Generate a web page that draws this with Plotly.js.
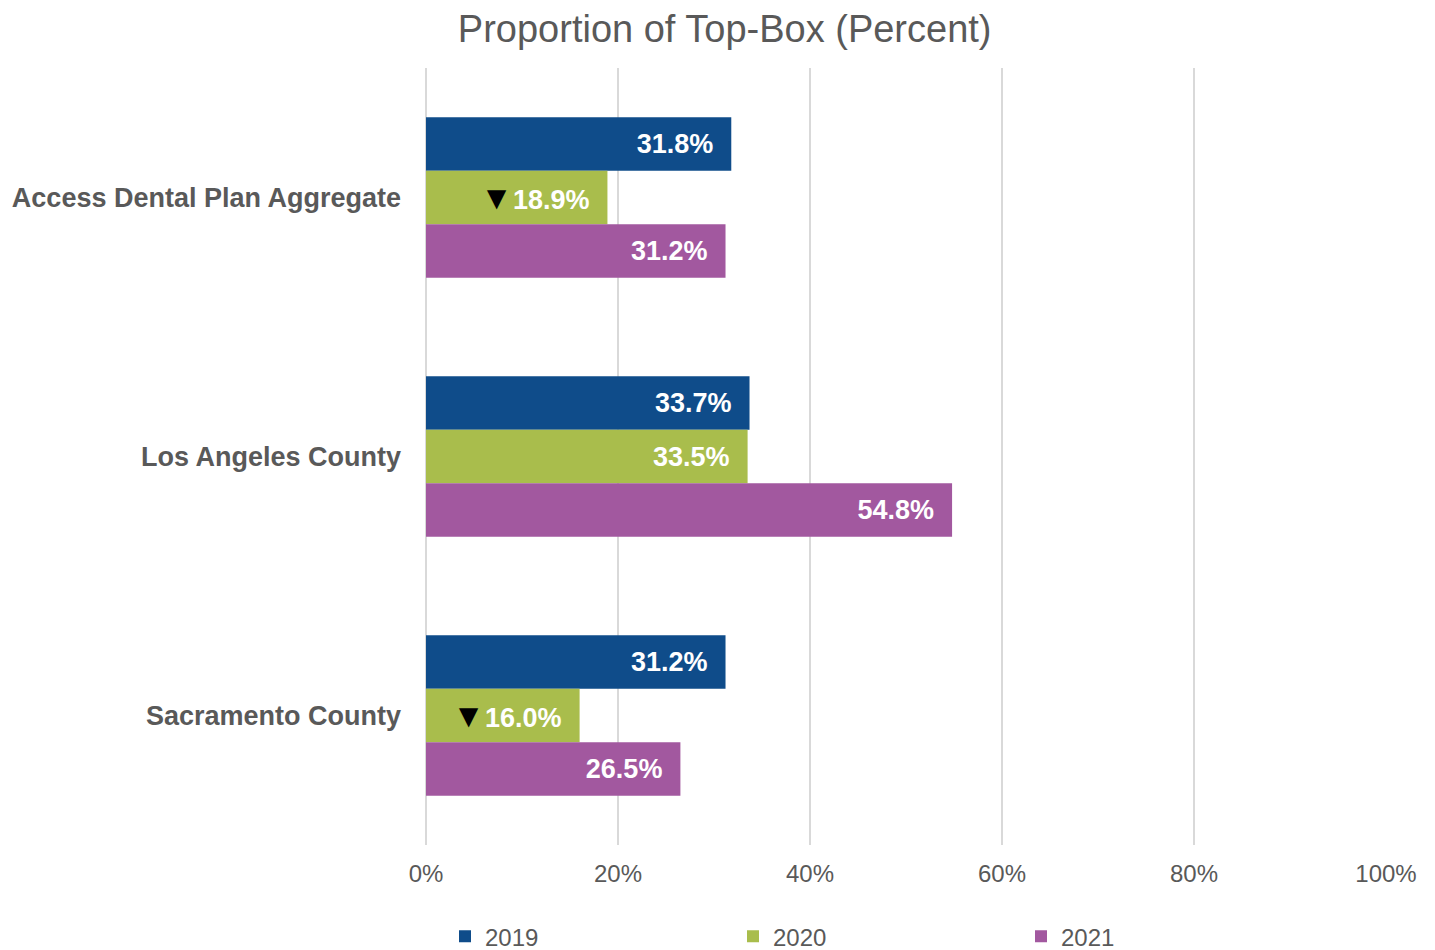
<!DOCTYPE html>
<html>
<head>
<meta charset="utf-8">
<script src="https://cdn.plot.ly/plotly-3.0.1.min.js"></script>
<style>html,body{margin:0;padding:0;background:#fff;}#chart{width:1435px;height:950px;}</style>
</head>
<body>
<div id="chart"></div>
<script>
const categories = ["Access Dental Plan Aggregate", "Los Angeles County", "Sacramento County"];
const years = ["2019", "2020", "2021"];
const values2019 = [31.8, 33.7, 31.2];
const values2020 = [18.9, 33.5, 16.0];
const values2021 = [31.2, 54.8, 26.5];
// significance flags (down arrow) per series
const down2019 = [false, false, false];
const down2020 = [true, false, true];
const down2021 = [false, false, false];
const colors = ["#0F4C8A", "#A9BD4C", "#A2589F"];

const series = [values2019, values2020, values2021];
const downs = [down2019, down2020, down2021];

const traces = series.map((vals, i) => ({
  type: "bar",
  orientation: "h",
  name: years[i],
  y: categories,
  x: vals,
  marker: {color: colors[i]},
  text: vals.map((v, j) => (downs[i][j] ? '<span style="color:#000000;font-size:33px">▼</span>' : '') + v.toFixed(1) + '%\u00a0\u00a0'),
  textposition: "inside",
  insidetextanchor: "end",
  textfont: {family: "Liberation Sans, Arial, sans-serif", size: 27, color: "#ffffff", weight: "bold"},
  constraintext: "none",
  hoverinfo: "skip"
}));

const layout = {
  width: 1435,
  height: 950,
  margin: {l: 426, r: 49, t: 68, b: 105, autoexpand: false},
  paper_bgcolor: "#ffffff",
  plot_bgcolor: "#ffffff",
  barmode: "group",
  bargap: 0.38,
  bargroupgap: 0,
  title: {
    text: "Proportion of Top-Box (Percent)",
    x: 0.505, xref: "container", xanchor: "center",
    y: 0.97, yref: "container", yanchor: "middle",
    font: {family: "Liberation Sans, Arial, sans-serif", size: 38, color: "#595959"}
  },
  xaxis: {
    range: [0, 100],
    tickvals: [0, 20, 40, 60, 80, 100],
    ticktext: ["0%", "20%", "40%", "60%", "80%", "100%"],
    showgrid: true,
    gridcolor: "#d9d9d9",
    gridwidth: 2,
    zeroline: true,
    zerolinecolor: "#d9d9d9",
    zerolinewidth: 2,
    showline: false,
    ticks: "",
    ticklabelstandoff: 12,
    automargin: false,
    tickfont: {family: "Liberation Sans, Arial, sans-serif", size: 24, color: "#595959"},
    fixedrange: true
  },
  yaxis: {
    type: "category",
    categoryorder: "array",
    categoryarray: categories,
    autorange: "reversed",
    showgrid: false,
    zeroline: false,
    showline: false,
    ticks: "",
    ticklabelstandoff: 24,
    automargin: false,
    tickfont: {family: "Liberation Sans, Arial, sans-serif", size: 27, color: "#595959", weight: "bold"},
    fixedrange: true
  },
  legend: {
    orientation: "h",
    xref: "paper", yref: "paper",
    x: (445 - 426) / 960, xanchor: "left",
    y: -0.089, yanchor: "top",
    entrywidth: 243,
    entrywidthmode: "pixels",
    itemwidth: 30,
    traceorder: "normal",
    font: {family: "Liberation Sans, Arial, sans-serif", size: 24, color: "#595959"}
  },
  showlegend: true
};

Plotly.newPlot("chart", traces, layout, {displayModeBar: false, staticPlot: true});
</script>
</body>
</html>
